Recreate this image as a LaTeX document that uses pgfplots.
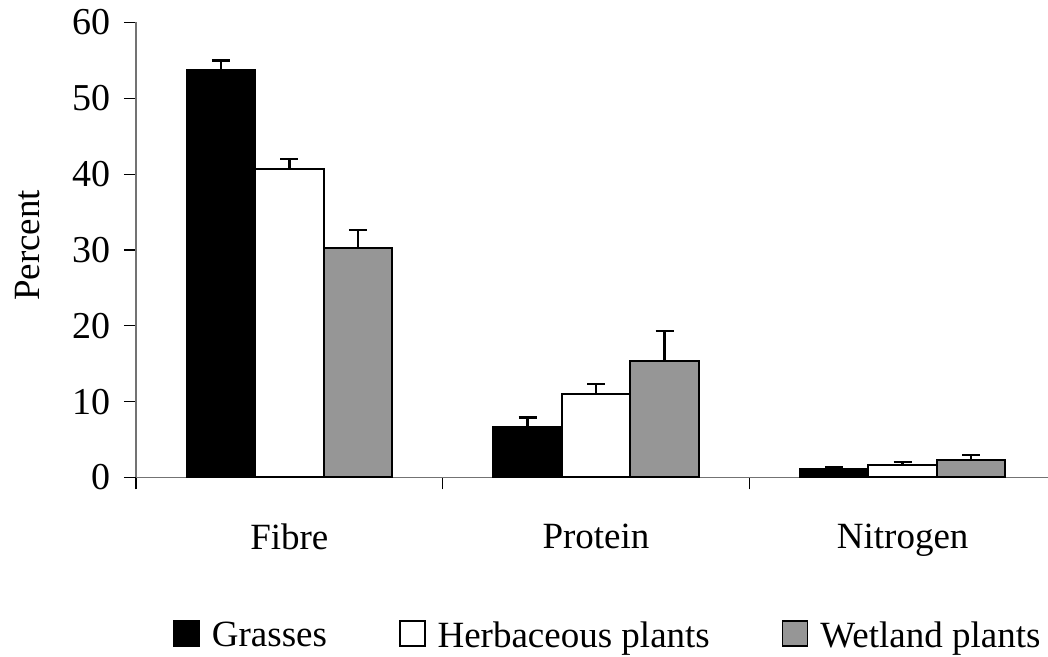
\documentclass[border=0pt]{standalone}
\usepackage{fontspec}
\setmainfont{Liberation Serif}
\usepackage{pgfplots}
\pgfplotsset{compat=1.18}
\definecolor{wetgray}{RGB}{150,150,150}
\begin{document}
\begin{tikzpicture}[font=\fontsize{18.5}{22}\selectfont]
\useasboundingbox (-68pt,-89.75pt) rectangle (456pt,238.75pt);
\begin{axis}[
  at={(0,0)}, anchor=south west,
  scale only axis,
  width=460pt, height=227.5pt,
  xmin=-0.5, xmax=2.5,
  ymin=0, ymax=60,
  ytick={0,10,...,60},
  xtick={-0.5,0.5,1.5,2.5},
  x tick label as interval,
  xticklabels={Fibre,Protein,Nitrogen},
  axis lines=left,
  axis line style={-, draw=black!55, line width=0.7pt},
  tick style={black, line width=0.6pt},
  tick align=outside,
  major tick length=6pt,
  /pgf/number format/assume math mode=true,
  xticklabel style={yshift=-13.5pt},
  yticklabel style={xshift=-3pt, font=\fontsize{19}{22}\selectfont},
  ylabel={Percent},
  ylabel style={at={(axis description cs:-0.118,0.51)}, anchor=center},
  ybar, bar width=34.25pt,
  legend columns=3,
  legend style={at={(0.514,-0.348)}, anchor=center, draw=none,
    /tikz/every odd column/.append style={column sep=4pt},
    /tikz/every even column/.append style={column sep=34pt}},
  legend image code/.code={\draw[#1, line width=0.8pt] (0pt,-5pt) rectangle (12.5pt,7.5pt);},
  error bars/y dir=plus, error bars/y explicit,
  error bars/error bar style={line width=1.2pt, black},
  error bars/error mark options={line width=1.2pt, mark size=4.5pt, black, rotate=90},
]
\addplot[fill=black, draw=black, line width=1pt, bar shift=-34.25pt]
  coordinates {(0,53.7) +- (0,1.3) (1,6.67) +- (0,1.25) (2,1.06) +- (0,0.35)};
\addplot[fill=white, draw=black, line width=1pt, bar shift=0pt]
  coordinates {(0,40.66) +- (0,1.32) (1,10.95) +- (0,1.4) (2,1.66) +- (0,0.35)};
\addplot[fill=wetgray, draw=black, line width=1pt, bar shift=34.25pt]
  coordinates {(0,30.3) +- (0,2.3) (1,15.3) +- (0,4.0) (2,2.3) +- (0,0.7)};
\legend{Grasses, Herbaceous plants, Wetland plants}
\end{axis}
\end{tikzpicture}
\end{document}
